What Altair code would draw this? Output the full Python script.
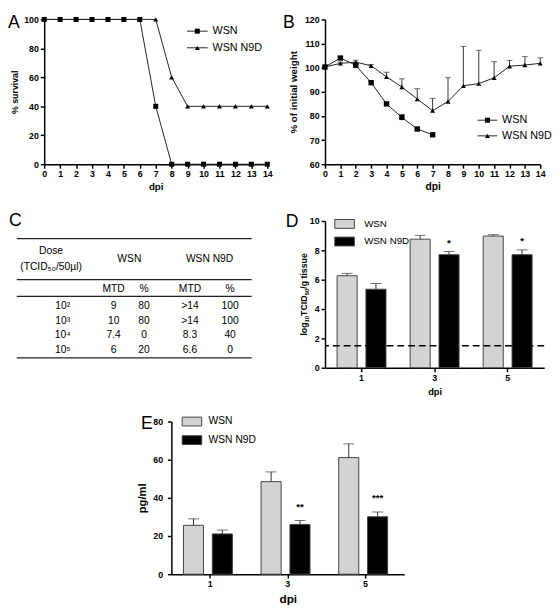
import altair as alt
import pandas as pd

FONT = "Liberation Sans"
SERIES = ["WSN", "WSN N9D"]

# ---------------- data ----------------
# A: survival (%)
A_DPI = [0, 1, 2, 3, 4, 5, 6, 7, 8, 9, 10, 11, 12, 13, 14]
A_WSN = [100, 100, 100, 100, 100, 100, 100, 40, 0, 0, 0, 0, 0, 0, 0]
A_N9D = [100, 100, 100, 100, 100, 100, 100, 100, 60, 40, 40, 40, 40, 40, 40]
A_YTICKS = [0, 20, 40, 60, 80, 100]

# B: % of initial weight (mean and upper error)
B_DPI_WSN = [0, 1, 2, 3, 4, 5, 6, 7]
B_WSN = [100.3, 104.0, 101.0, 93.8, 85.0, 79.4, 74.6, 72.2]
B_WSN_UP = [100.6, 104.6, 101.5, 94.3, 85.5, 80.6, 75.1, 72.6]
B_DPI_N9D = [0, 1, 2, 3, 4, 5, 6, 7, 8, 9, 10, 11, 12, 13, 14]
B_N9D = [100.3, 101.8, 102.3, 100.8, 96.2, 92.0, 87.0, 82.2, 86.0, 92.5, 93.4, 95.8, 100.6, 101.1, 101.8]
B_N9D_UP = [100.6, 102.3, 103.1, 101.3, 98.1, 95.4, 91.3, 87.3, 95.8, 108.8, 107.2, 102.5, 103.0, 104.6, 104.1]
B_YTICKS = [60, 70, 80, 90, 100, 110, 120]

# C: table
C_DOSE = ["10\u00b2", "10\u00b3", "10\u2074", "10\u2075"]
C_WSN_MTD = ["9", "10", "7.4", "6"]
C_WSN_PCT = ["80", "80", "0", "20"]
C_N9D_MTD = [">14", ">14", "8.3", "6.6"]
C_N9D_PCT = ["100", "100", "40", "0"]
C_HEAD = ["Dose", "(TCID\u2085\u2080/50\u00b5l)", "WSN", "WSN N9D", "MTD", "%", "MTD", "%"]

# D: lung titres
D_DPI = ["1", "3", "5"]
D_WSN = [6.27, 8.76, 8.97]
D_WSN_UP = [6.43, 9.02, 9.07]
D_N9D = [5.35, 7.70, 7.70]
D_N9D_UP = [5.74, 7.92, 8.03]
D_SIG = ["", "*", "*"]
D_LIMIT = [1.5]
D_YTICKS = [0, 2, 4, 6, 8, 10]
# y title "log10TCID50/g tissue" as (text, is_subscript)
D_YTITLE = [("log", False), ("10", True), ("TCID", False), ("50", True), ("/g tissue", False)]

# E: cytokine
E_DPI = ["1", "3", "5"]
E_WSN = [25.6, 48.5, 61.1]
E_WSN_UP = [29.0, 53.6, 68.3]
E_N9D = [21.1, 26.1, 30.1]
E_N9D_UP = [23.1, 28.1, 32.6]
E_SIG = ["", "**", "***"]
E_YTICKS = [0, 20, 40, 60, 80]

# ---------------- layout / style ----------------
AW, AH = 228, 148
BW, BH = 220, 148
CW, CH = 200, 150
DW, DH = 224, 150
EW, EH = 238, 156
LINE_C = "#222222"
ERR_C = "#333333"
BAR_STROKE = "#444444"
GRAY = "#d3d3d3"
# Arial/Liberation Sans Bold advance widths (per 1000 em) for the rotated title pieces
BOLD_W = {"l": 278, "o": 611, "g": 611, "1": 556, "0": 556, "5": 556, "T": 611, "C": 722,
          "I": 278, "D": 722, "/": 278, " ": 278, "t": 333, "i": 278, "s": 556, "u": 611, "e": 556}


def letter(t, x, y):
    return alt.Chart(pd.DataFrame({"t": [t]})).mark_text(
        font=FONT, fontSize=18, align="left", baseline="top", color="black"
    ).encode(text="t:N", x=alt.value(x), y=alt.value(y))


def legend_text(t, x, y, fs):
    return alt.Chart(pd.DataFrame({"t": [t]})).mark_text(
        font=FONT, fontSize=fs, align="left", baseline="middle", color="black"
    ).encode(text="t:N", x=alt.value(x), y=alt.value(y))


def line_legend(x0, x1, xt, ys, fs):
    """legend entries: short line with marker, then label"""
    out = []
    shapes = ["square", "triangle-up"]
    for name, shp, y in zip(SERIES, shapes, ys):
        one = pd.DataFrame({"s": [name]})
        out.append(alt.Chart(one).mark_rule(color=LINE_C, strokeWidth=1).encode(
            x=alt.value(x0), x2=alt.value(x1), y=alt.value(y)))
        out.append(alt.Chart(one).mark_point(shape=shp, filled=True, size=26, color="black",
                                             opacity=1).encode(
            x=alt.value((x0 + x1) / 2), y=alt.value(y)))
        out.append(legend_text(name, xt, y, fs))
    return out


def bar_legend(x0, x1, xt, ys, h, fs):
    out = []
    for name, col, y in zip(SERIES, [GRAY, "#000000"], ys):
        one = pd.DataFrame({"s": [name]})
        out.append(alt.Chart(one).mark_rect(fill=col, stroke=BAR_STROKE, strokeWidth=1).encode(
            x=alt.value(x0), x2=alt.value(x1), y=alt.value(y - h / 2), y2=alt.value(y + h / 2)))
        out.append(legend_text(name, xt, y, fs))
    return out


def rotated_title(pieces, x_base, y_center, fs, fs_sub, sub_drop):
    """vertical (bottom-to-top) axis title built from pieces, with real subscripts"""
    widths = [sum(BOLD_W[ch] for ch in t) * (fs_sub if sub else fs) / 1000 for t, sub in pieces]
    y = y_center + sum(widths) / 2
    out = []
    for (t, sub), w in zip(pieces, widths):
        out.append(alt.Chart(pd.DataFrame({"t": [t]})).mark_text(
            font=FONT, fontSize=fs_sub if sub else fs, fontWeight="bold", angle=270,
            align="left", baseline="alphabetic", color="black"
        ).encode(text="t:N", x=alt.value(x_base + (sub_drop if sub else 0)), y=alt.value(y)))
        y -= w
    return out


# ---------------- A ----------------
a_df = pd.DataFrame({
    "dpi": A_DPI + A_DPI,
    "pct": A_WSN + A_N9D,
    "series": ["WSN"] * len(A_DPI) + ["WSN N9D"] * len(A_DPI),
})
ax_A = alt.X("dpi:Q", scale=alt.Scale(domain=[0, 14], nice=False, zero=False),
             axis=alt.Axis(values=A_DPI, title="dpi", titleFontSize=10, titlePadding=3,
                           labelFlush=False, labelOverlap=False))
ay_A = alt.Y("pct:Q", scale=alt.Scale(domain=[0, 100], nice=False),
             axis=alt.Axis(values=A_YTICKS, title="% survival", labelOverlap=False,
                           titleFontSize=9, titlePadding=4))
baseA = alt.Chart(a_df)
A = alt.layer(
    baseA.mark_line(color=LINE_C, strokeWidth=1).encode(x=ax_A, y=ay_A, detail="series:N"),
    baseA.transform_filter(alt.datum.series == "WSN").mark_point(
        shape="square", filled=True, size=26, color="black", opacity=1).encode(x=ax_A, y=ay_A),
    baseA.transform_filter(alt.datum.series == "WSN N9D").mark_point(
        shape="triangle-up", filled=True, size=26, color="black", opacity=1).encode(x=ax_A, y=ay_A),
    *line_legend(146, 167, 172, [12, 29], 11),
    letter("A", -37, -5),
).properties(width=AW, height=AH)

# ---------------- B ----------------
b_df = pd.DataFrame({
    "dpi": B_DPI_WSN + B_DPI_N9D,
    "w": B_WSN + B_N9D,
    "up": B_WSN_UP + B_N9D_UP,
    "series": ["WSN"] * len(B_DPI_WSN) + ["WSN N9D"] * len(B_DPI_N9D),
})
bx_axis = alt.Axis(values=B_DPI_N9D, title="dpi", titleFontSize=10.5, titlePadding=3,
                   labelFlush=False, labelOverlap=False)
by_axis = alt.Axis(values=B_YTICKS, title="% of initial weight", labelOverlap=False,
                   titleFontSize=10, titlePadding=6)
bx_scale = alt.Scale(domain=[0, 14], nice=False, zero=False)
by_scale = alt.Scale(domain=[60, 120], nice=False, zero=False)
ax_B = alt.X("dpi:Q", scale=bx_scale, axis=bx_axis)
ay_B = alt.Y("w:Q", scale=by_scale, axis=by_axis)
ay_Bup = alt.Y("up:Q", scale=by_scale, axis=by_axis)
baseB = alt.Chart(b_df)
B = alt.layer(
    baseB.mark_line(color=LINE_C, strokeWidth=1).encode(x=ax_B, y=ay_B, detail="series:N"),
    baseB.mark_rule(color=ERR_C, strokeWidth=1).encode(x=ax_B, y=ay_B, y2="up:Q"),
    baseB.mark_tick(color=ERR_C, thickness=1, size=6, orient="horizontal").encode(x=ax_B, y=ay_Bup),
    baseB.transform_filter(alt.datum.series == "WSN").mark_point(
        shape="square", filled=True, size=30, color="black", opacity=1).encode(x=ax_B, y=ay_B),
    baseB.transform_filter(alt.datum.series == "WSN N9D").mark_point(
        shape="triangle-up", filled=True, size=26, color="black", opacity=1).encode(x=ax_B, y=ay_B),
    *line_legend(156, 176, 181, [103, 119], 11),
    letter("B", -43, -5),
).properties(width=BW, height=BH)

# ---------------- C (table) ----------------
COLX = {"dose_h": 35, "dose": 47, "wsn_h": 115, "wsn_mtd": 99, "wsn_pct": 130,
        "n9d_h": 197, "n9d_mtd": 177, "n9d_pct": 218}
ROWY = [87, 102, 117, 132]
TABLE_W = 240
cells = [
    (C_HEAD[0], COLX["dose_h"], 31), (C_HEAD[1], COLX["dose_h"], 47),
    (C_HEAD[2], COLX["wsn_h"], 39), (C_HEAD[3], COLX["n9d_h"], 39),
    (C_HEAD[4], COLX["wsn_mtd"], 70), (C_HEAD[5], COLX["wsn_pct"], 70),
    (C_HEAD[6], COLX["n9d_mtd"], 70), (C_HEAD[7], COLX["n9d_pct"], 70),
]
for i in range(len(C_DOSE)):
    cells += [(C_DOSE[i], COLX["dose"], ROWY[i]), (C_WSN_MTD[i], COLX["wsn_mtd"], ROWY[i]),
              (C_WSN_PCT[i], COLX["wsn_pct"], ROWY[i]), (C_N9D_MTD[i], COLX["n9d_mtd"], ROWY[i]),
              (C_N9D_PCT[i], COLX["n9d_pct"], ROWY[i])]
c_df = pd.DataFrame(cells, columns=["txt", "cx", "cy"])
rules_df = pd.DataFrame({"ry": [18, 60, 77, 140], "rx": [0] * 4, "rx2": [TABLE_W] * 4})
cx_scale = alt.Scale(domain=[28, 28 + CW], nice=False, zero=False)
cy_scale = alt.Scale(domain=[CH, 0], nice=False, zero=False)
C = alt.layer(
    alt.Chart(rules_df).mark_rule(color="#222222", strokeWidth=1.2).encode(
        x=alt.X("rx:Q", scale=cx_scale, axis=None), x2="rx2:Q",
        y=alt.Y("ry:Q", scale=cy_scale, axis=None)),
    alt.Chart(c_df).mark_text(font=FONT, fontSize=10.5, color="black", align="center",
                              baseline="middle").encode(
        x=alt.X("cx:Q", scale=cx_scale, axis=None),
        y=alt.Y("cy:Q", scale=cy_scale, axis=None), text="txt:N"),
    letter("C", -36, -9),
).properties(width=CW, height=CH)


# ---------------- bar panels ----------------
def bar_panel(dpi, wsn, wsn_up, n9d, n9d_up, sig, width, height, ymax, yvals, ytitle,
              ytitle_fs, ytitle_pad, ylabel_pad, xtitle_fs, xtitle_pad, legend_layers,
              star_dy, letter_t, letter_x, letter_y, limit=None, extra=()):
    df = pd.DataFrame({
        "dpi": dpi + dpi,
        "series": ["WSN"] * len(dpi) + ["WSN N9D"] * len(dpi),
        "val": wsn + n9d,
        "up": wsn_up + n9d_up,
        "sig": [""] * len(dpi) + sig,
    })
    step = width / len(dpi)
    off_step, bar_w = 29.5, 20.5
    off_pi = (off_step - bar_w) / off_step
    off_po = (step / off_step - 2 + off_pi) / 2
    xs = alt.X("dpi:N", sort=dpi,
               scale=alt.Scale(domain=dpi, paddingInner=0, paddingOuter=0),
               axis=alt.Axis(title="dpi", labelAngle=0, titleFontSize=xtitle_fs,
                             titlePadding=xtitle_pad))
    xo = alt.XOffset("series:N", sort=SERIES,
                     scale=alt.Scale(domain=SERIES, paddingInner=off_pi, paddingOuter=off_po))
    if ytitle is None:
        yaxis = alt.Axis(values=yvals, title=None, labelOverlap=False, labelPadding=ylabel_pad)
    else:
        yaxis = alt.Axis(values=yvals, title=ytitle, titleFontSize=ytitle_fs,
                         titlePadding=ytitle_pad, labelOverlap=False, labelPadding=ylabel_pad)
    yscale = alt.Scale(domain=[0, ymax], nice=False)
    ys = alt.Y("val:Q", scale=yscale, axis=yaxis)
    ys_up = alt.Y("up:Q", scale=yscale, axis=yaxis)
    base = alt.Chart(df)
    layers = [
        base.mark_bar(stroke=BAR_STROKE, strokeWidth=1).encode(
            x=xs, xOffset=xo, y=ys,
            fill=alt.Fill("series:N", scale=alt.Scale(domain=SERIES, range=[GRAY, "#000000"]),
                          legend=None)),
    ]
    if limit is not None:
        layers.append(alt.Chart(pd.DataFrame({"val": limit})).mark_rule(
            color="black", strokeWidth=1.6, strokeDash=[7, 4]).encode(y=ys))
    layers += [
        base.mark_rule(color=ERR_C, strokeWidth=1).encode(x=xs, xOffset=xo, y=ys, y2="up:Q"),
        base.mark_tick(color=ERR_C, thickness=1, size=11, orient="horizontal").encode(
            x=xs, xOffset=xo, y=ys_up),
        base.mark_text(font=FONT, fontSize=10, fontWeight="bold", color="black",
                       baseline="alphabetic", dy=star_dy).encode(
            x=xs, xOffset=xo, y=ys_up, text="sig:N"),
        *legend_layers,
        *extra,
        letter(letter_t, letter_x, letter_y),
    ]
    return alt.layer(*layers).properties(width=width, height=height)


D = bar_panel(D_DPI, D_WSN, D_WSN_UP, D_N9D, D_N9D_UP, D_SIG, DW, DH, 10, D_YTICKS,
              None, 9.5, 1, 2, 9.5, 4,
              bar_legend(10, 30, 40, [3, 21], 9, 10), -6, "D", -40, -8, limit=D_LIMIT,
              extra=rotated_title(D_YTITLE, -18, DH / 2, 9, 6, 2))

# white anchor fixing E's left extent inside the concat layout
e_anchor = alt.Chart(pd.DataFrame({"v": [0]})).mark_rule(color="white", strokeWidth=1).encode(
    x=alt.value(-42), x2=alt.value(-41), y=alt.value(EH / 2))
E = bar_panel(E_DPI, E_WSN, E_WSN_UP, E_N9D, E_N9D_UP, E_SIG, EW, EH, 80, E_YTICKS,
              "pg/ml", 11.5, 5, 5, 12, 5,
              bar_legend(11, 31, 38, [0, 19], 9, 10.5), -11, "E", -31, -6, extra=[e_anchor])

spacer = alt.Chart(pd.DataFrame({"v": [0]})).mark_rule(color="white", strokeWidth=1).encode(
    x=alt.value(0), x2=alt.value(75), y=alt.value(0)).properties(width=75, height=1)

row1 = alt.hconcat(A, B, spacing=10)
row2 = alt.hconcat(C, D, spacing=34)
row3 = alt.hconcat(spacer, E, spacing=11)

chart = alt.vconcat(row1, row2, row3, spacing=20).properties(
    padding={"left": 0, "top": 0, "right": 0, "bottom": 2}
).configure_view(stroke=None).configure_axis(
    labelFont=FONT, titleFont=FONT, labelFontSize=9, labelFontWeight="bold", labelColor="black",
    titleFontWeight="bold", titleColor="black", domainColor="black", domainWidth=1.5,
    tickColor="black", tickWidth=1.5, tickSize=4, grid=False, labelPadding=2
).configure_text(font=FONT)

chart.save("out.html", embed_options={"renderer": "svg", "actions": False})
